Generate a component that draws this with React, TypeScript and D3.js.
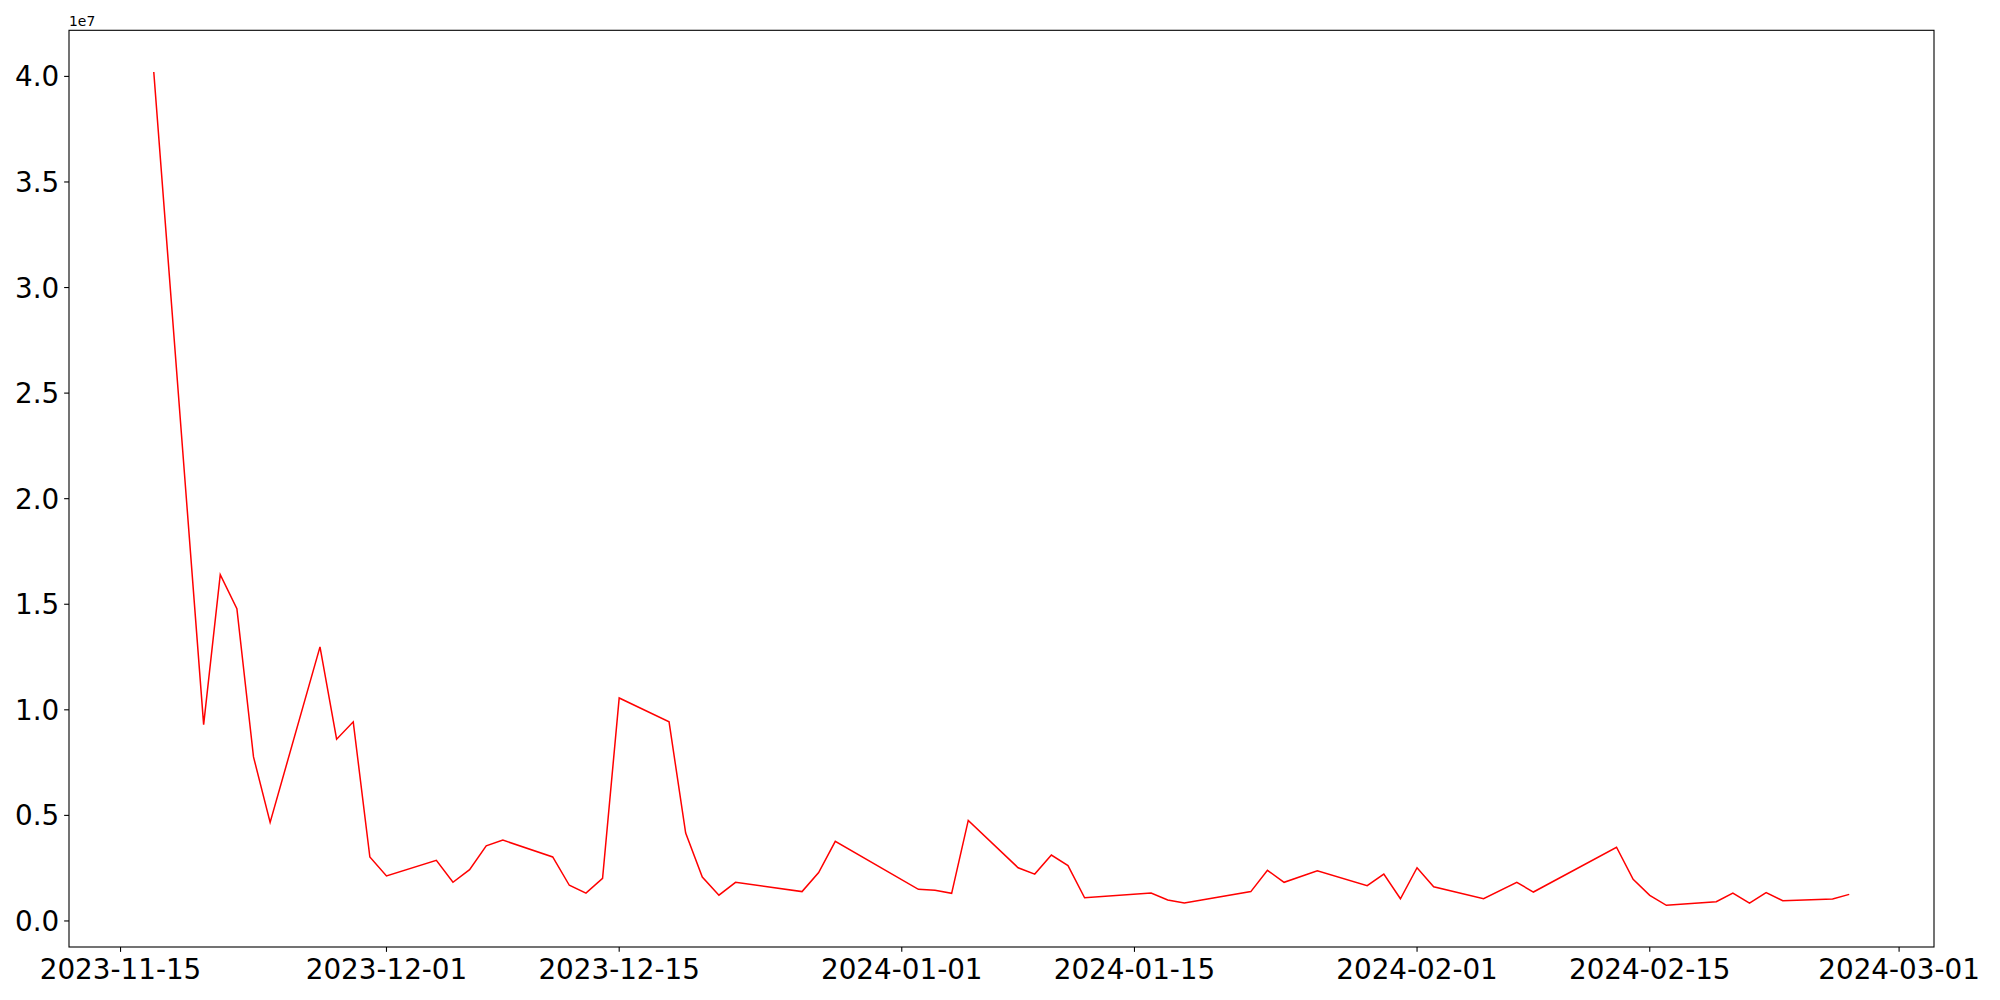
import React from "react";
import * as d3 from "d3";

const dates: string[] = [
  "2023-11-17", "2023-11-20", "2023-11-21", "2023-11-22", "2023-11-23", "2023-11-24",
  "2023-11-27", "2023-11-28", "2023-11-29", "2023-11-30", "2023-12-01", "2023-12-04",
  "2023-12-05", "2023-12-06", "2023-12-07", "2023-12-08", "2023-12-11", "2023-12-12",
  "2023-12-13", "2023-12-14", "2023-12-15", "2023-12-18", "2023-12-19", "2023-12-20",
  "2023-12-21", "2023-12-22", "2023-12-26", "2023-12-27", "2023-12-28", "2024-01-02",
  "2024-01-03", "2024-01-04", "2024-01-05", "2024-01-08", "2024-01-09", "2024-01-10",
  "2024-01-11", "2024-01-12", "2024-01-16", "2024-01-17", "2024-01-18", "2024-01-22",
  "2024-01-23", "2024-01-24", "2024-01-26", "2024-01-29", "2024-01-30", "2024-01-31",
  "2024-02-01", "2024-02-02", "2024-02-05", "2024-02-07", "2024-02-08", "2024-02-13",
  "2024-02-14", "2024-02-15", "2024-02-16", "2024-02-19", "2024-02-20", "2024-02-21",
  "2024-02-22", "2024-02-23", "2024-02-26", "2024-02-27",
];

const values: number[] = [
  40210000, 9300000, 16400000, 14790000, 7770000, 4670000,
  12980000, 8610000, 9430000, 3030000, 2130000, 2870000,
  1830000, 2430000, 3560000, 3830000, 3030000, 1690000,
  1320000, 2020000, 10560000, 9430000, 4160000, 2080000,
  1220000, 1830000, 1390000, 2290000, 3770000, 1500000,
  1450000, 1310000, 4760000, 2520000, 2220000, 3120000,
  2620000, 1100000, 1320000, 990000, 850000, 1390000,
  2400000, 1830000, 2380000, 1670000, 2220000, 1050000,
  2520000, 1620000, 1050000, 1830000, 1370000, 3490000,
  1970000, 1210000, 740000, 910000, 1320000, 840000,
  1340000, 960000, 1040000, 1260000,
];

const xTickLabels: string[] = [
  "2023-11-15", "2023-12-01", "2023-12-15", "2024-01-01",
  "2024-01-15", "2024-02-01", "2024-02-15", "2024-03-01",
];

const yTicks: number[] = [0, 5e6, 1e7, 1.5e7, 2e7, 2.5e7, 3e7, 3.5e7, 4e7];

export default function App() {
  const W = 2000, H = 1000;
  const left = 69, right = 1934, top = 30.3, bottom = 947;
  const parse = d3.utcParse("%Y-%m-%d");
  const pts = dates.map((d, i) => ({ t: parse(d)!, v: values[i] }));
  const tExt = d3.extent(pts, (p) => p.t.getTime()) as [number, number];
  const tPad = (tExt[1] - tExt[0]) * 0.05;
  const vExt = d3.extent(values) as [number, number];
  const vPad = (vExt[1] - vExt[0]) * 0.05;
  const x = d3.scaleUtc().domain([new Date(tExt[0] - tPad), new Date(tExt[1] + tPad)]).range([left, right]);
  const y = d3.scaleLinear().domain([vExt[0] - vPad, vExt[1] + vPad]).range([bottom, top]);
  const line = d3.line<{ t: Date; v: number }>().x((p) => x(p.t)).y((p) => y(p.v));
  const font = "DejaVu Sans, sans-serif";
  const fs = 27.8;
  const tickLen = 4.86;

  return (
    <svg width={W} height={H} style={{ position: "absolute", left: 0, top: 0, background: "#fff" }}>
      <rect x={0} y={0} width={W} height={H} fill="#fff" />
      <path d={line(pts) || ""} fill="none" stroke="#ff0000" strokeWidth={1.5} strokeLinejoin="miter" />
      <rect x={left} y={top} width={right - left} height={bottom - top} fill="none" stroke="#000" strokeWidth={1.1} />
      {xTickLabels.map((s) => {
        const px = x(parse(s)!);
        return (
          <g key={s}>
            <line x1={px} x2={px} y1={bottom} y2={bottom + tickLen} stroke="#000" strokeWidth={1.1} />
            <text x={px} y={979} textAnchor="middle" fontFamily={font} fontSize={fs} fill="#000">{s}</text>
          </g>
        );
      })}
      {yTicks.map((v) => {
        const py = y(v);
        return (
          <g key={v}>
            <line x1={left - tickLen} x2={left} y1={py} y2={py} stroke="#000" strokeWidth={1.1} />
            <text x={left - 9.7} y={py + fs * 0.36} textAnchor="end" fontFamily={font} fontSize={fs} fill="#000">
              {(v / 1e7).toFixed(1)}
            </text>
          </g>
        );
      })}
      <text x={left} y={25.7} fontFamily={font} fontSize={13.9} fill="#000">1e7</text>
    </svg>
  );
}
